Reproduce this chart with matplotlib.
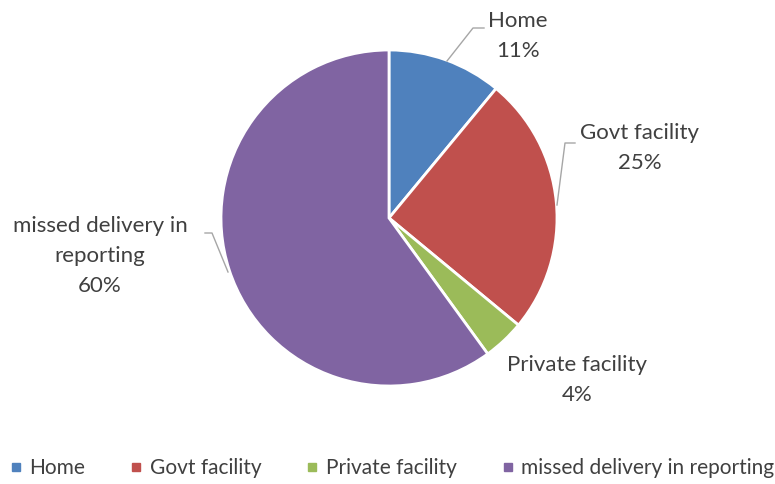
import matplotlib.pyplot as plt
from matplotlib.lines import Line2D

labels = ["Home", "Govt facility", "Private facility", "missed delivery in reporting"]
values = [11, 25, 4, 60]
colors = ["#4F81BD", "#C0504D", "#9BBB59", "#8064A2"]

TEXT = "#404040"
plt.rcParams["font.family"] = ["Lato", "DejaVu Sans"]

fig = plt.figure(figsize=(7.75, 4.84), dpi=100)
ax = fig.add_axes([0, 0, 1, 1])

cx, cy, r = 389, 484 - 218, 168
ax.pie(values, colors=colors, startangle=90, counterclock=False,
       center=(cx, cy), radius=r, frame=True,
       wedgeprops=dict(edgecolor="white", linewidth=2))
ax.set_xlim(0, 775)
ax.set_ylim(0, 484)
ax.set_aspect("equal")
ax.axis("off")

# data labels (pixel positions from top-left)
lab_text = ["Home\n11%", "Govt facility\n25%", "Private facility\n4%",
            "missed delivery in\nreporting\n60%"]
lab_pos = [(518, 36), (640, 148), (577, 380), (100, 256)]
for t, (x, y) in zip(lab_text, lab_pos):
    ax.text(x, 484 - y, t, ha="center", va="center", fontsize=16,
            color=TEXT, linespacing=1.6)

# leader lines
leaders = [
    [(447, 61), (473, 28), (484, 28)],
    [(557, 205), (565, 143), (575, 143)],
    [(228, 272), (212, 233), (205, 233)],
]
for pts in leaders:
    xs = [p[0] for p in pts]
    ys = [484 - p[1] for p in pts]
    ax.plot(xs, ys, color="#A6A6A6", lw=1)

handles = [Line2D([], [], marker="s", ls="", color=c, markersize=5.5) for c in colors]
fig.legend(handles, labels, loc="center", bbox_to_anchor=(0.5065, 1 - 468 / 484),
           ncol=4, frameon=False, fontsize=15, labelcolor=TEXT,
           handlelength=0.5, handletextpad=0.4, columnspacing=2.2)

fig.savefig("out.png", dpi=100)
